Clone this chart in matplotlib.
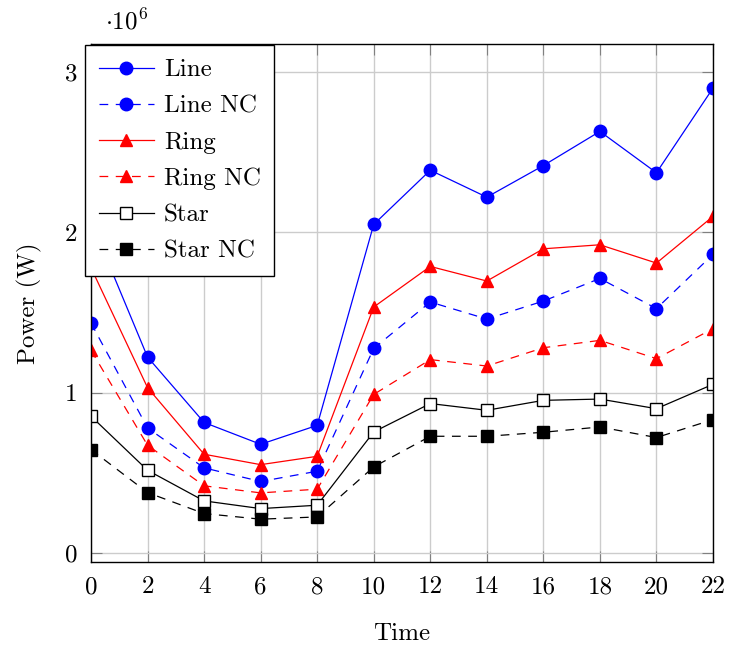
import numpy as np
import matplotlib
matplotlib.use('Agg')
import matplotlib.pyplot as plt

plt.rcParams['font.family'] = 'serif'
plt.rcParams['font.serif'] = ['cmr10']
plt.rcParams['mathtext.fontset'] = 'cm'
plt.rcParams['axes.unicode_minus'] = False

# data (power in units of 1e6 W)
time = [0, 2, 4, 6, 8, 10, 12, 14, 16, 18, 20, 22]
line = [2.07, 1.223, 0.815, 0.679, 0.797, 2.05, 2.388, 2.22, 2.417, 2.63, 2.372, 2.90]
line_nc = [1.435, 0.781, 0.532, 0.447, 0.511, 1.277, 1.566, 1.46, 1.572, 1.713, 1.525, 1.863]
ring = [1.78, 1.032, 0.617, 0.552, 0.604, 1.535, 1.788, 1.697, 1.898, 1.923, 1.809, 2.10]
ring_nc = [1.265, 0.673, 0.42, 0.376, 0.399, 0.99, 1.207, 1.167, 1.281, 1.327, 1.213, 1.40]
star = [0.854, 0.517, 0.326, 0.278, 0.299, 0.756, 0.933, 0.891, 0.953, 0.961, 0.901, 1.053]
star_nc = [0.646, 0.378, 0.247, 0.212, 0.226, 0.538, 0.729, 0.729, 0.754, 0.787, 0.721, 0.833]

fig = plt.figure(figsize=(7.3, 6.48), dpi=100)
ax = fig.add_axes([91/730, 1-562/648, 622/730, 518/648])

dash = (0, (7, 6))
lw = 0.9
fs = 18
ax.plot(time, line, color='#0000ff', lw=lw, marker='o', ms=9, label='Line')
ax.plot(time, line_nc, color='#0000ff', lw=lw, ls=dash, marker='o', ms=9, label='Line NC')
ax.plot(time, ring, color='#ff0000', lw=lw, marker='^', ms=8, label='Ring')
ax.plot(time, ring_nc, color='#ff0000', lw=lw, ls=dash, marker='^', ms=8, label='Ring NC')
ax.plot(time, star, color='black', lw=lw, marker='s', ms=8, mfc='white', mew=1.0, label='Star')
ax.plot(time, star_nc, color='black', lw=lw, ls=dash, marker='s', ms=8, label='Star NC')

ax.set_xlim(0, 22)
ax.set_ylim(-0.055, 3.175)
ax.set_xticks(range(0, 23, 2))
ax.set_yticks([0, 1, 2, 3])
ax.grid(True, color='#cccccc', lw=1.0)
ax.set_axisbelow(True)
ax.tick_params(direction='in', length=8, width=0.8, color='#808080',
               top=True, right=True, labelsize=fs)
ax.tick_params(axis='x', pad=10)
ax.tick_params(axis='y', pad=10)
for s in ax.spines.values():
    s.set_linewidth(1.0)

ax.set_xlabel('Time', fontsize=fs, labelpad=18)
ax.set_ylabel('Power (W)', fontsize=fs, labelpad=16)
ax.text(0.022, 1.029, r'$\cdot 10^{6}$', transform=ax.transAxes, fontsize=fs,
        ha='left', va='baseline')

leg = ax.legend(loc='upper left', bbox_to_anchor=(-0.0096, 0.998), fontsize=fs,
                frameon=True, fancybox=False, framealpha=1, edgecolor='black',
                borderpad=0.55, labelspacing=0.55, handlelength=2.2,
                handletextpad=0.4, borderaxespad=0)
leg.get_frame().set_linewidth(1.0)

fig.savefig('out.png', dpi=100)
